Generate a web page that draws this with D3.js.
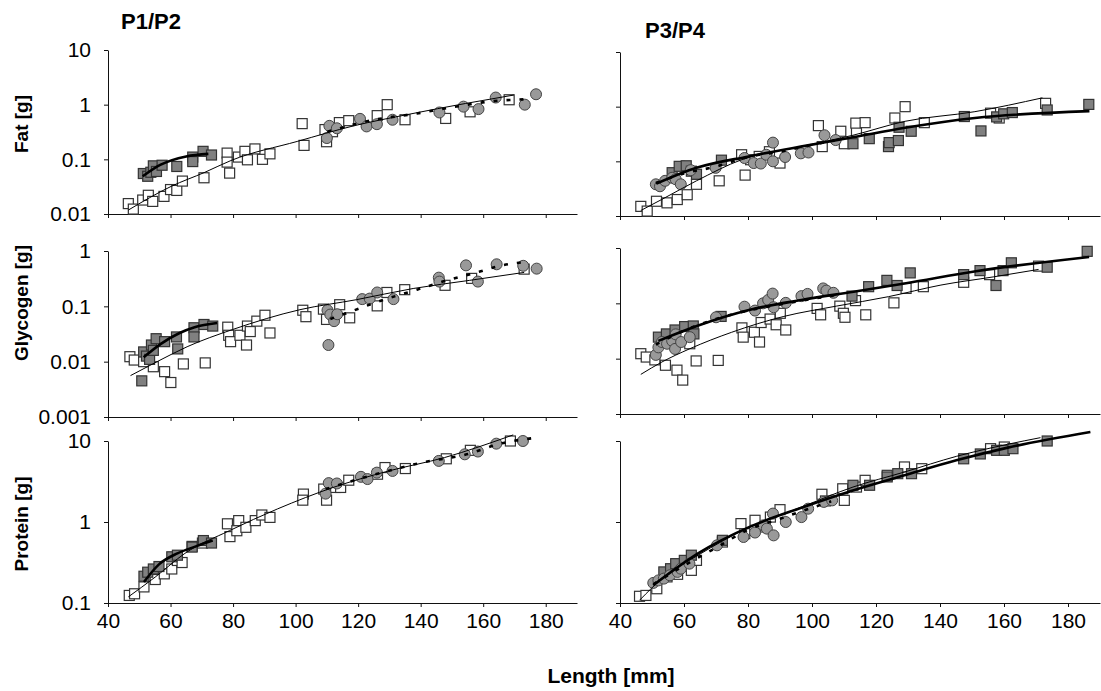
<!DOCTYPE html>
<html>
<head>
<meta charset="utf-8">
<script src="https://cdn.jsdelivr.net/npm/d3@7"></script>
<style>
  body { margin: 0; background: #fff; }
  text { font-family: "Liberation Sans", Arial, sans-serif; }
</style>
</head>
<body>
<svg id="chart" width="1101" height="691"></svg>
<script>
// ---- data: [length mm, mass g] ----
const xTicks = [40, 60, 80, 100, 120, 140, 160, 180]
const fatTicks = [0.01, 0.1, 1, 10]
const glyTicks = [0.001, 0.01, 0.1, 1]
const protTicks = [0.1, 1, 10]

// Fat, P1/P2
const fat12Open = [[46.5,0.0155],[48.1,0.0123],[51.1,0.018],[52.9,0.022],[54.3,0.017],[57.9,0.021],[60,0.028],[62,0.027],[63.8,0.040],[70.7,0.046],[78.1,0.13],[78.9,0.056],[78.1,0.089],[81.7,0.11],[83.8,0.14],[84.6,0.098],[87,0.155],[89.4,0.10],[91.8,0.126],[102.1,0.45],[102.7,0.18],[109.4,0.35],[109.9,0.21],[111.8,0.32],[114,0.47],[117,0.51],[126.1,0.63],[129.3,1.0],[135,0.53],[148,0.56],[155.8,0.74],[168.3,1.23]]
const fat12Fill = [[51.3,0.055],[52.7,0.049],[53.7,0.058],[54.5,0.076],[55.5,0.06],[57.3,0.078],[62,0.074],[67.1,0.11],[67.1,0.091],[70.4,0.14],[73.1,0.12]]
const fat12Circ = [[110,0.245],[110.8,0.41],[113.2,0.37],[120.6,0.55],[122.7,0.40],[126,0.44],[131,0.53],[146,0.72],[153.7,0.92],[158.5,0.83],[164,1.35],[173.3,1.0],[176.9,1.55]]
const fat12OpenFit = [[46.5,0.0118],[60.2,0.032],[71,0.058],[79.3,0.095],[100.7,0.214],[118.6,0.41],[136.4,0.67],[154.3,1.05],[169.8,1.5]]
const fat12FillFit = [[51.1,0.049],[56.7,0.079],[65,0.113],[72.1,0.126]]
const fat12CircFit = [[110.2,0.32],[124.5,0.52],[138.8,0.69],[148.3,0.86],[162.6,1.15],[174.5,1.26]]

// Fat, P3/P4
const fat34Open = [[46.5,0.015],[48.5,0.0123],[51.4,0.0186],[54.7,0.0174],[57.9,0.020],[61,0.0245],[63.9,0.038],[71,0.044],[78,0.132],[79.1,0.056],[80.8,0.107],[83.5,0.123],[86.7,0.15],[90,0.093],[102,0.45],[103.2,0.186],[109,0.355],[110.1,0.21],[113.9,0.355],[113.7,0.50],[116.6,0.51],[125.9,0.62],[129.1,1.0],[135.1,0.51],[155.8,0.76],[158.5,0.62],[173,1.15]]
const fat34Fill = [[56.3,0.062],[58.5,0.081],[60.7,0.083],[62.3,0.066],[63.9,0.058],[71.7,0.105],[112.8,0.21],[117.9,0.26],[123.9,0.186],[124.1,0.22],[127.2,0.42],[127,0.24],[131,0.355],[147.6,0.66],[152.8,0.36],[157.7,0.65],[159.9,0.74],[162.6,0.78],[173.5,0.87],[186.5,1.1]]
const fat34Circ = [[51.2,0.038],[52.5,0.035],[54.1,0.044],[56.3,0.050],[57.4,0.047],[59,0.038],[62.1,0.069],[69.9,0.076],[78.9,0.115],[81.8,0.093],[84,0.091],[85.7,0.132],[87.8,0.22],[87.8,0.10],[91.6,0.12],[96.5,0.14],[98.9,0.145],[103.9,0.30],[107.4,0.245]]
const fat34OpenFit = [[46.5,0.0126],[53,0.020],[63.9,0.044],[78,0.107],[96.5,0.186],[112.8,0.30],[129.1,0.54],[150.9,0.81],[172,1.45]]
const fat34FillFit = [[51.4,0.039],[63.9,0.076],[80.2,0.123],[96.5,0.186],[112.8,0.275],[129.1,0.41],[150.9,0.62],[186.7,0.83]]
const fat34CircFit = [[51.2,0.04],[60,0.06],[70,0.08],[80,0.12],[90,0.15],[100,0.2],[107,0.24]]

// Glycogen, P1/P2
const gly12Open = [[47,0.0123],[48.4,0.0107],[51.4,0.010],[54.5,0.0081],[58.1,0.0066],[60.1,0.0042],[64.1,0.0091],[71.1,0.0095],[78.3,0.042],[78.6,0.030],[79.2,0.023],[82.2,0.030],[84.3,0.020],[84.6,0.044],[85.5,0.035],[87.6,0.054],[90.2,0.069],[91.8,0.033],[102.3,0.085],[103.3,0.065],[108.9,0.089],[109.9,0.058],[114.1,0.107],[117.3,0.062],[126.1,0.102],[129.2,0.178],[134.9,0.20],[147.8,0.24],[156.3,0.32],[173.1,0.47]]
const gly12Fill = [[50.8,0.0045],[51.4,0.015],[52.3,0.0126],[53.3,0.011],[53.9,0.020],[54.5,0.016],[55.4,0.026],[58.1,0.023],[61.9,0.028],[62.3,0.017],[67.5,0.041],[67.5,0.028],[70.7,0.047],[73.5,0.044]]
const gly12Circ = [[110.5,0.020],[110.2,0.085],[111.1,0.071],[112.3,0.054],[113.3,0.072],[121.3,0.135],[123.7,0.138],[126.1,0.178],[131.3,0.135],[145.8,0.33],[146,0.28],[154.5,0.55],[158.3,0.28],[164.3,0.575],[172.8,0.54],[177.1,0.48]]
const gly12OpenFit = [[47.2,0.0056],[55.7,0.010],[65.3,0.0186],[79.8,0.038],[101.4,0.087],[119.5,0.132],[137.6,0.21],[155.7,0.295],[173.1,0.41]]
const gly12FillFit = [[51.4,0.012],[56.9,0.021],[62.9,0.033],[67.7,0.042],[74.9,0.050]]
const gly12CircFit = [[111.1,0.059],[120.7,0.093],[125.5,0.117],[138.8,0.20],[148.4,0.295],[158.7,0.42],[165.3,0.54],[173.1,0.63]]

// Glycogen, P3/P4
const gly34Open = [[46.5,0.0123],[48.2,0.0107],[50.9,0.0095],[54.2,0.0076],[57.8,0.0062],[59.6,0.0041],[61.8,0.0186],[63.8,0.0091],[70.7,0.0093],[78.1,0.036],[78.5,0.0245],[82,0.030],[83.6,0.020],[84.1,0.045],[86.9,0.052],[88.8,0.041],[90.1,0.066],[91.8,0.033],[101.6,0.081],[102.7,0.062],[108.7,0.089],[109.8,0.066],[110.3,0.056],[113.6,0.112],[116.8,0.062],[125.6,0.102],[129.4,0.186],[134.8,0.20],[147.4,0.24],[155.5,0.33],[170.8,0.47]]
const gly34Fill = [[52,0.0245],[54.5,0.028],[57.2,0.033],[60.2,0.038],[62.9,0.039],[63.1,0.028],[71.6,0.058],[112.5,0.135],[117.7,0.20],[123.4,0.26],[126.6,0.21],[130.7,0.355],[147.4,0.33],[152.5,0.39],[157.5,0.21],[159.7,0.39],[162.3,0.54],[173.5,0.45],[186,0.87]]
const gly34Circ = [[51.2,0.0117],[52,0.016],[53.1,0.020],[54.7,0.0186],[56.3,0.021],[57.2,0.015],[57.4,0.0275],[59.1,0.020],[61.8,0.0245],[70,0.056],[78.9,0.087],[82.2,0.074],[84.7,0.10],[86.3,0.115],[87.7,0.15],[88,0.085],[91.8,0.102],[96.7,0.135],[98.6,0.148],[103.5,0.186],[104.5,0.17],[106.7,0.155]]
const gly34OpenFit = [[46.5,0.0052],[53.1,0.0087],[61.8,0.0151],[74.9,0.030],[91.2,0.058],[107.6,0.089],[123.9,0.132],[140.3,0.214],[156.6,0.30],[170.8,0.41]]
const gly34FillFit = [[52,0.021],[64,0.039],[80.3,0.076],[96.7,0.115],[113,0.162],[129.4,0.23],[151.2,0.38],[186.6,0.69]]
const gly34CircFit = [[51.2,0.018],[60,0.032],[70,0.052],[80,0.074],[90,0.095],[100,0.12],[107,0.14]]

// Protein, P1/P2
const prot12Open = [[46.8,0.124],[48.5,0.130],[51.5,0.158],[55.1,0.195],[58,0.229],[60.4,0.263],[62.2,0.335],[63.7,0.316],[66.9,0.50],[70.2,0.55],[78.2,0.95],[79,0.66],[81.8,1.04],[81.2,0.78],[84.1,0.86],[87.1,1.04],[89.2,1.22],[91.8,1.14],[102.5,2.21],[102.3,1.86],[109,2.55],[109.9,1.86],[112.8,2.67],[114.4,2.67],[117,3.28],[126.2,3.89],[128.6,4.70],[135.1,4.57],[148.2,6.03],[155.9,7.67],[168.7,10.0]]
const prot12Fill = [[51.5,0.214],[52.7,0.24],[54.5,0.263],[56.3,0.282],[60.4,0.372],[62.2,0.389],[66.9,0.49],[70.5,0.59],[73.1,0.55]]
const prot12Circ = [[109.6,2.24],[110.6,3.02],[113.2,2.99],[120.9,3.61],[123,3.39],[126,4.07],[131,4.27],[145.8,5.68],[154.1,6.85],[158.3,7.41],[164.2,9.27],[172.7,10.0]]
const prot12OpenFit = [[46.5,0.119],[55.1,0.209],[64.6,0.41],[78.8,0.78],[94.2,1.45],[112,2.67],[129.8,4.27],[147.6,6.24],[169.6,11.9]]
const prot12FillFit = [[51.5,0.182],[56.3,0.30],[62.2,0.41],[68.1,0.50],[73.5,0.59]]
const prot12CircFit = [[109.6,2.55],[123.9,3.72],[140.5,5.42],[154.7,6.85],[165.4,9.27],[177.3,11.0]]

// Protein, P3/P4
const prot34Open = [[46.1,0.121],[48.1,0.124],[51.5,0.150],[54.7,0.21],[58,0.226],[62.3,0.253],[63.9,0.336],[72,0.566],[77.8,0.955],[79,0.718],[82.2,1.05],[85.4,0.867],[87,1.15],[90,1.42],[103.1,2.20],[104.2,1.82],[109.6,2.57],[110.1,1.85],[113.9,2.70],[116.6,3.27],[123.5,3.77],[128.9,4.78],[134.3,4.55],[155.8,8.04],[160.1,8.43]]
const prot34Fill = [[53.7,0.242],[55.8,0.265],[57.4,0.306],[60.1,0.336],[62.3,0.389],[72,0.594],[112.8,2.84],[118,2.84],[123.5,3.60],[126.8,3.95],[131.1,3.95],[147.4,6.03],[152.6,6.92],[157.7,7.67],[160.1,7.67],[162.8,8.04],[173.5,10.0]]
const prot34Circ = [[50.4,0.177],[52,0.19],[53.7,0.20],[55.6,0.22],[58,0.242],[59,0.265],[61.7,0.306],[70.3,0.515],[78.6,0.653],[82.2,0.741],[84.8,0.91],[85.9,0.828],[87.8,1.27],[88,0.684],[91.8,1.0],[96.7,1.15],[98.8,1.46],[103.7,1.77],[106.3,1.85]]
const prot34OpenFit = [[46.1,0.108],[53.7,0.209],[64.4,0.389],[80.5,0.867],[96.7,1.53],[112.8,2.70],[128.9,4.14],[145.1,6.46],[161.2,9.12],[171.4,11.0]]
const prot34FillFit = [[50.4,0.166],[64.4,0.41],[80.5,0.87],[96.7,1.50],[112.8,2.45],[128.9,3.77],[145.1,5.77],[161.2,8.28],[187,12.9]]
const prot34CircFit = [[50.4,0.17],[60,0.29],[70,0.48],[80,0.8],[90,1.1],[100,1.5],[106,1.8]]

// ---- layout ----
const svg = d3.select('#chart')
const cols = [[108, 577], [620, 1100]]

const panels = [
  { col: 0, y: [214, 50], dom: [0.01, 10], ticks: fatTicks, title: 'Fat [g]', titleY: 124, labels: false,
    open: fat12Open, fill: fat12Fill, circ: fat12Circ, openFit: fat12OpenFit, fillFit: fat12FillFit, circFit: fat12CircFit },
  { col: 1, y: [216, 52], dom: [0.01, 10], ticks: fatTicks,
    open: fat34Open, fill: fat34Fill, circ: fat34Circ, openFit: fat34OpenFit, fillFit: fat34FillFit, circFit: fat34CircFit },
  { col: 0, y: [417, 251], dom: [0.001, 1], ticks: glyTicks, title: 'Glycogen [g]', titleY: 303, labels: false,
    open: gly12Open, fill: gly12Fill, circ: gly12Circ, openFit: gly12OpenFit, fillFit: gly12FillFit, circFit: gly12CircFit },
  { col: 1, y: [414, 248], dom: [0.001, 1], ticks: glyTicks,
    open: gly34Open, fill: gly34Fill, circ: gly34Circ, openFit: gly34OpenFit, fillFit: gly34FillFit, circFit: gly34CircFit },
  { col: 0, y: [603, 441], dom: [0.1, 10], ticks: protTicks, title: 'Protein [g]', titleY: 524, labels: true,
    open: prot12Open, fill: prot12Fill, circ: prot12Circ, openFit: prot12OpenFit, fillFit: prot12FillFit, circFit: prot12CircFit },
  { col: 1, y: [603, 441], dom: [0.1, 10], ticks: protTicks, labels: true,
    open: prot34Open, fill: prot34Fill, circ: prot34Circ, openFit: prot34OpenFit, fillFit: prot34FillFit, circFit: prot34CircFit }
]

panels.forEach(p => {
  const x = d3.scaleLinear().domain([40, 190]).range(cols[p.col])
  const y = d3.scaleLog().domain(p.dom).range(p.y)
  const g = svg.append('g')

  // axes
  const xa = g.append('g')
    .attr('transform', `translate(0,${p.y[0]})`)
    .call(d3.axisBottom(x).tickValues(xTicks).tickSize(4).tickSizeOuter(0).tickPadding(6)
      .tickFormat(p.labels ? d3.format('d') : ''))
  const ya = g.append('g')
    .attr('transform', `translate(${cols[p.col][0]},0)`)
    .call(d3.axisLeft(y).tickValues(p.ticks).tickSize(4).tickSizeOuter(0).tickPadding(13)
      .tickFormat(p.col === 0 ? (d => String(d)) : ''))
  ;[xa, ya].forEach(a => {
    a.select('.domain').attr('stroke', '#111')
    a.selectAll('.tick line').attr('stroke', '#111')
    a.selectAll('text').attr('font-size', 21).attr('fill', '#000')
      .style('font-family', '"Liberation Sans", Arial, sans-serif')
  })

  // markers
  const sq = 10
  g.append('g').selectAll('rect').data(p.open).join('rect')
    .attr('x', d => x(d[0]) - sq / 2).attr('y', d => y(d[1]) - sq / 2)
    .attr('width', sq).attr('height', sq)
    .attr('fill', '#fff').attr('stroke', '#333').attr('stroke-width', 1.2)
  g.append('g').selectAll('rect').data(p.fill).join('rect')
    .attr('x', d => x(d[0]) - sq / 2).attr('y', d => y(d[1]) - sq / 2)
    .attr('width', sq).attr('height', sq)
    .attr('fill', '#808080').attr('stroke', '#333').attr('stroke-width', 1.2)
  g.append('g').selectAll('circle').data(p.circ).join('circle')
    .attr('cx', d => x(d[0])).attr('cy', d => y(d[1])).attr('r', 5.5)
    .attr('fill', '#999').attr('stroke', '#444').attr('stroke-width', 1)

  // fitted lines
  const line = d3.line().x(d => x(d[0])).y(d => y(d[1])).curve(d3.curveMonotoneX)
  g.append('path').attr('d', line(p.openFit))
    .attr('fill', 'none').attr('stroke', '#000').attr('stroke-width', 1)
  g.append('path').attr('d', line(p.fillFit))
    .attr('fill', 'none').attr('stroke', '#000').attr('stroke-width', 2.6)
  g.append('path').attr('d', line(p.circFit))
    .attr('fill', 'none').attr('stroke', '#000').attr('stroke-width', 2.6)
    .attr('stroke-dasharray', '4,9')

  if (p.title) {
    svg.append('text')
      .attr('transform', `translate(28,${p.titleY}) rotate(-90)`)
      .attr('text-anchor', 'middle')
      .attr('font-size', 19).attr('font-weight', 'bold')
      .text(p.title)
  }
})

svg.append('text').attr('x', 121).attr('y', 29)
  .attr('font-size', 22).attr('font-weight', 'bold').text('P1/P2')
svg.append('text').attr('x', 645).attr('y', 38)
  .attr('font-size', 22).attr('font-weight', 'bold').text('P3/P4')
svg.append('text').attr('x', 611).attr('y', 683)
  .attr('text-anchor', 'middle')
  .attr('font-size', 21).attr('font-weight', 'bold').text('Length [mm]')
</script>
</body>
</html>
